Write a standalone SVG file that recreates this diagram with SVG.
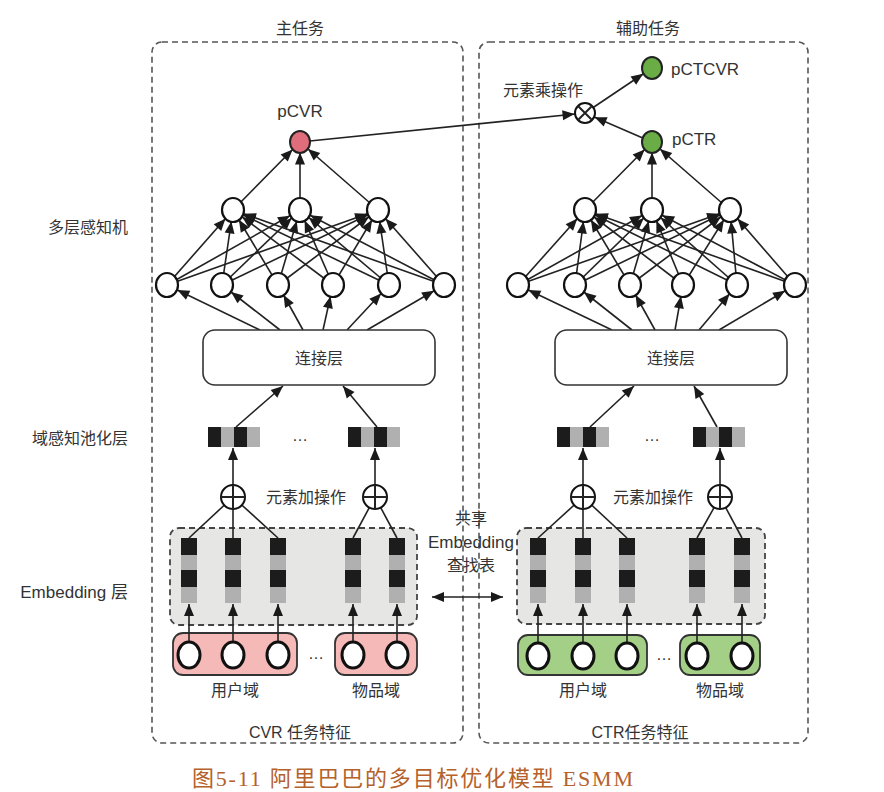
<svg xmlns="http://www.w3.org/2000/svg" xmlns:xlink="http://www.w3.org/1999/xlink" width="884" height="792" viewBox="0 0 884 792">
<style>
.t{font-family:"Liberation Sans","Noto Sans CJK SC",sans-serif;fill:#333;font-size:16px}
.c{text-anchor:middle}
.e{text-anchor:end}
.lt{font-size:17px}
.panel{fill:none;stroke:#555;stroke-width:1.6;stroke-dasharray:6 4}
.emb{fill:#e6e6e4;stroke:#444;stroke-width:1.8;stroke-dasharray:6 4}
.ln{stroke:#222;stroke-width:1.6;fill:none}
.ah{marker-end:url(#mh)}
.ao{marker-end:url(#mo)}
.ae{marker-end:url(#me)}
.nd{fill:#fff;stroke:#111;stroke-width:2.2}
.in{fill:#fff;stroke:#111;stroke-width:3}
.op{fill:#fff;stroke:#111;stroke-width:2}
.k{fill:#1c1c1c}
.g{fill:#b0b0b0}
.box{fill:#fff;stroke:#333;stroke-width:1.6}
.pk{fill:#f5b9b8;stroke:#333;stroke-width:1.8}
.gr{fill:#a3cf86;stroke:#333;stroke-width:1.8}
.cap{font-family:"Liberation Serif","Noto Sans CJK SC",serif;fill:#b5612b;font-size:22px}
</style>
<defs>
<marker id="mh" viewBox="0 0 12 10" markerUnits="userSpaceOnUse" markerWidth="12" markerHeight="10" refX="23.5" refY="5" orient="auto" overflow="visible"><path d="M0,0 L12,5 L0,10 z" fill="#1a1a1a"/></marker>
<marker id="mo" viewBox="0 0 12 10" markerUnits="userSpaceOnUse" markerWidth="12" markerHeight="10" refX="22.5" refY="5" orient="auto" overflow="visible"><path d="M0,0 L12,5 L0,10 z" fill="#1a1a1a"/></marker>
<marker id="me" viewBox="0 0 12 10" markerUnits="userSpaceOnUse" markerWidth="12" markerHeight="10" refX="12" refY="5" orient="auto-start-reverse" overflow="visible"><path d="M0,0 L12,5 L0,10 z" fill="#1a1a1a"/></marker>
<g id="pb"><rect class="k" x="0" y="0" width="13" height="20"/><rect class="g" x="13" y="0" width="13" height="20"/><rect class="k" x="26" y="0" width="13" height="20"/><rect class="g" x="39" y="0" width="13" height="20"/></g>
<g id="col"><rect class="k" x="-8" y="538" width="16" height="17"/><rect class="g" x="-8" y="555" width="16" height="15"/><rect class="k" x="-8" y="570" width="16" height="17"/><rect class="g" x="-8" y="587" width="16" height="16"/></g>
</defs>
<rect width="884" height="792" fill="#fff"/>

<g id="panel-main"><rect class="panel" x="152" y="42" width="311" height="701" rx="10"/></g>
<g id="panel-aux"><rect class="panel" x="479" y="42" width="329" height="701" rx="10"/></g>
<g id="emb-left"><rect class="emb" x="170" y="528" width="247" height="97" rx="9"/></g>
<g id="emb-right"><rect class="emb" x="517" y="528" width="248" height="96" rx="9"/></g>
<g id="user-domain-left"><rect class="pk" x="173" y="633" width="124" height="42" rx="10"/></g>
<g id="item-domain-left"><rect class="pk" x="335" y="633" width="82" height="42" rx="10"/></g>
<g id="user-domain-right"><rect class="gr" x="518" y="635" width="129" height="40" rx="10"/></g>
<g id="item-domain-right"><rect class="gr" x="680" y="635" width="80" height="40" rx="10"/></g>

<g id="connectors">
<line class="ln ah" x1="167" y1="285" x2="233" y2="210"/><line class="ln ah" x1="167" y1="285" x2="300" y2="210"/><line class="ln ah" x1="167" y1="285" x2="378" y2="210"/>
<line class="ln ah" x1="222" y1="285" x2="233" y2="210"/><line class="ln ah" x1="222" y1="285" x2="300" y2="210"/><line class="ln ah" x1="222" y1="285" x2="378" y2="210"/>
<line class="ln ah" x1="278" y1="285" x2="233" y2="210"/><line class="ln ah" x1="278" y1="285" x2="300" y2="210"/><line class="ln ah" x1="278" y1="285" x2="378" y2="210"/>
<line class="ln ah" x1="333" y1="285" x2="233" y2="210"/><line class="ln ah" x1="333" y1="285" x2="300" y2="210"/><line class="ln ah" x1="333" y1="285" x2="378" y2="210"/>
<line class="ln ah" x1="389" y1="285" x2="233" y2="210"/><line class="ln ah" x1="389" y1="285" x2="300" y2="210"/><line class="ln ah" x1="389" y1="285" x2="378" y2="210"/>
<line class="ln ah" x1="444" y1="285" x2="233" y2="210"/><line class="ln ah" x1="444" y1="285" x2="300" y2="210"/><line class="ln ah" x1="444" y1="285" x2="378" y2="210"/>
<line class="ln ao" x1="233" y1="210" x2="300" y2="142"/><line class="ln ao" x1="300" y1="210" x2="300" y2="142"/><line class="ln ao" x1="378" y1="210" x2="300" y2="142"/>
<line class="ln ah" x1="260" y1="330" x2="167" y2="285"/><line class="ln ah" x1="280" y1="330" x2="222" y2="285"/><line class="ln ah" x1="303" y1="330" x2="278" y2="285"/>
<line class="ln ah" x1="323" y1="330" x2="333" y2="285"/><line class="ln ah" x1="347" y1="330" x2="389" y2="285"/><line class="ln ah" x1="367" y1="330" x2="444" y2="285"/>
<line class="ln ae" x1="236" y1="427" x2="283" y2="386"/><line class="ln ae" x1="377" y1="427" x2="343" y2="386"/>
<line class="ln ae" x1="233" y1="497" x2="233" y2="448"/><line class="ln ae" x1="375" y1="497" x2="375" y2="448"/>
<line class="ln" x1="233" y1="497" x2="189" y2="538"/><line class="ln" x1="233" y1="497" x2="233" y2="538"/><line class="ln" x1="233" y1="497" x2="278" y2="538"/>
<line class="ln" x1="375" y1="497" x2="353" y2="538"/><line class="ln" x1="375" y1="497" x2="397" y2="538"/>
<line class="ln ae" x1="189" y1="655" x2="189" y2="604"/><line class="ln ae" x1="233" y1="655" x2="233" y2="604"/><line class="ln ae" x1="278" y1="655" x2="278" y2="604"/>
<line class="ln ae" x1="353" y1="655" x2="353" y2="604"/><line class="ln ae" x1="397" y1="655" x2="397" y2="604"/>

<line class="ln ah" x1="518" y1="285" x2="585" y2="210"/><line class="ln ah" x1="518" y1="285" x2="652" y2="210"/><line class="ln ah" x1="518" y1="285" x2="730" y2="210"/>
<line class="ln ah" x1="575" y1="285" x2="585" y2="210"/><line class="ln ah" x1="575" y1="285" x2="652" y2="210"/><line class="ln ah" x1="575" y1="285" x2="730" y2="210"/>
<line class="ln ah" x1="630" y1="285" x2="585" y2="210"/><line class="ln ah" x1="630" y1="285" x2="652" y2="210"/><line class="ln ah" x1="630" y1="285" x2="730" y2="210"/>
<line class="ln ah" x1="683" y1="285" x2="585" y2="210"/><line class="ln ah" x1="683" y1="285" x2="652" y2="210"/><line class="ln ah" x1="683" y1="285" x2="730" y2="210"/>
<line class="ln ah" x1="737" y1="285" x2="585" y2="210"/><line class="ln ah" x1="737" y1="285" x2="652" y2="210"/><line class="ln ah" x1="737" y1="285" x2="730" y2="210"/>
<line class="ln ah" x1="795" y1="285" x2="585" y2="210"/><line class="ln ah" x1="795" y1="285" x2="652" y2="210"/><line class="ln ah" x1="795" y1="285" x2="730" y2="210"/>
<line class="ln ao" x1="585" y1="210" x2="652" y2="142"/><line class="ln ao" x1="652" y1="210" x2="652" y2="142"/><line class="ln ao" x1="730" y1="210" x2="652" y2="142"/>
<line class="ln ah" x1="612" y1="330" x2="518" y2="285"/><line class="ln ah" x1="632" y1="330" x2="575" y2="285"/><line class="ln ah" x1="655" y1="330" x2="630" y2="285"/>
<line class="ln ah" x1="675" y1="330" x2="683" y2="285"/><line class="ln ah" x1="699" y1="330" x2="737" y2="285"/><line class="ln ah" x1="719" y1="330" x2="795" y2="285"/>
<line class="ln ae" x1="590" y1="427" x2="634" y2="386"/><line class="ln ae" x1="717" y1="427" x2="694" y2="386"/>
<line class="ln ae" x1="583" y1="497" x2="583" y2="448"/><line class="ln ae" x1="720" y1="497" x2="720" y2="448"/>
<line class="ln" x1="583" y1="497" x2="538" y2="538"/><line class="ln" x1="583" y1="497" x2="583" y2="538"/><line class="ln" x1="583" y1="497" x2="627" y2="538"/>
<line class="ln" x1="720" y1="497" x2="697" y2="538"/><line class="ln" x1="720" y1="497" x2="742" y2="538"/>
<line class="ln ae" x1="538" y1="656" x2="538" y2="604"/><line class="ln ae" x1="583" y1="656" x2="583" y2="604"/><line class="ln ae" x1="627" y1="656" x2="627" y2="604"/>
<line class="ln ae" x1="697" y1="656" x2="697" y2="604"/><line class="ln ae" x1="742" y1="656" x2="742" y2="604"/>

<line class="ln ao" x1="300" y1="142" x2="585" y2="113"/>
<line class="ln ao" x1="652" y1="142" x2="585" y2="113"/>
<line class="ln ao" x1="585" y1="113" x2="652" y2="68"/>
<line class="ln" style="marker-start:url(#me);marker-end:url(#me)" x1="432" y1="597" x2="503" y2="597"/>
</g>

<g id="pCVR"><ellipse cx="300" cy="142" rx="10" ry="11" fill="#e06d7b" stroke="#222" stroke-width="2"/><text class="t lt c" x="300" y="117">pCVR</text></g>
<g id="L-h2-1"><ellipse class="nd" cx="233" cy="210" rx="11" ry="12"/></g>
<g id="L-h2-2"><ellipse class="nd" cx="300" cy="210" rx="11" ry="12"/></g>
<g id="L-h2-3"><ellipse class="nd" cx="378" cy="210" rx="11" ry="12"/></g>
<g id="L-h1-1"><ellipse class="nd" cx="167" cy="285" rx="11" ry="12"/></g>
<g id="L-h1-2"><ellipse class="nd" cx="222" cy="285" rx="11" ry="12"/></g>
<g id="L-h1-3"><ellipse class="nd" cx="278" cy="285" rx="11" ry="12"/></g>
<g id="L-h1-4"><ellipse class="nd" cx="333" cy="285" rx="11" ry="12"/></g>
<g id="L-h1-5"><ellipse class="nd" cx="389" cy="285" rx="11" ry="12"/></g>
<g id="L-h1-6"><ellipse class="nd" cx="444" cy="285" rx="11" ry="12"/></g>
<g id="L-concat"><rect class="box" x="203" y="330" width="232" height="55" rx="12"/><text class="t c" x="319" y="364">连接层</text></g>
<g id="L-pool-1"><use xlink:href="#pb" x="208" y="427"/></g>
<g id="L-pool-2"><use xlink:href="#pb" x="348" y="427"/></g>
<g id="L-plus-1"><circle class="op" cx="233" cy="497" r="12"/><path class="ln" style="stroke-width:2" d="M221,497 H245 M233,485 V509"/></g>
<g id="L-plus-2"><circle class="op" cx="375" cy="497" r="12"/><path class="ln" style="stroke-width:2" d="M363,497 H387 M375,485 V509"/></g>
<g id="L-cols"><use xlink:href="#col" x="189"/><use xlink:href="#col" x="233"/><use xlink:href="#col" x="278"/><use xlink:href="#col" x="353"/><use xlink:href="#col" x="397"/></g>
<g id="L-in-1"><ellipse class="in" cx="189" cy="655" rx="11" ry="13"/></g>
<g id="L-in-2"><ellipse class="in" cx="233" cy="655" rx="11" ry="13"/></g>
<g id="L-in-3"><ellipse class="in" cx="278" cy="655" rx="11" ry="13"/></g>
<g id="L-in-4"><ellipse class="in" cx="353" cy="655" rx="11" ry="13"/></g>
<g id="L-in-5"><ellipse class="in" cx="397" cy="655" rx="11" ry="13"/></g>

<g id="pCTCVR"><ellipse cx="652" cy="68" rx="10" ry="11" fill="#6aad46" stroke="#222" stroke-width="2"/><text class="t lt" x="671" y="75">pCTCVR</text></g>
<g id="mult"><circle class="op" cx="585" cy="113" r="10"/><path class="ln" style="stroke-width:2" d="M578,106 L592,120 M592,106 L578,120"/></g>
<g id="pCTR"><ellipse cx="652" cy="142" rx="10" ry="11" fill="#6aad46" stroke="#222" stroke-width="2"/><text class="t lt" x="672" y="145">pCTR</text></g>
<g id="R-h2-1"><ellipse class="nd" cx="585" cy="210" rx="11" ry="12"/></g>
<g id="R-h2-2"><ellipse class="nd" cx="652" cy="210" rx="11" ry="12"/></g>
<g id="R-h2-3"><ellipse class="nd" cx="730" cy="210" rx="11" ry="12"/></g>
<g id="R-h1-1"><ellipse class="nd" cx="518" cy="285" rx="11" ry="12"/></g>
<g id="R-h1-2"><ellipse class="nd" cx="575" cy="285" rx="11" ry="12"/></g>
<g id="R-h1-3"><ellipse class="nd" cx="630" cy="285" rx="11" ry="12"/></g>
<g id="R-h1-4"><ellipse class="nd" cx="683" cy="285" rx="11" ry="12"/></g>
<g id="R-h1-5"><ellipse class="nd" cx="737" cy="285" rx="11" ry="12"/></g>
<g id="R-h1-6"><ellipse class="nd" cx="795" cy="285" rx="11" ry="12"/></g>
<g id="R-concat"><rect class="box" x="555" y="330" width="232" height="55" rx="12"/><text class="t c" x="671" y="364">连接层</text></g>
<g id="R-pool-1"><use xlink:href="#pb" x="557" y="427"/></g>
<g id="R-pool-2"><use xlink:href="#pb" x="693" y="427"/></g>
<g id="R-plus-1"><circle class="op" cx="583" cy="497" r="12"/><path class="ln" style="stroke-width:2" d="M571,497 H595 M583,485 V509"/></g>
<g id="R-plus-2"><circle class="op" cx="720" cy="497" r="12"/><path class="ln" style="stroke-width:2" d="M708,497 H732 M720,485 V509"/></g>
<g id="R-cols"><use xlink:href="#col" x="538"/><use xlink:href="#col" x="583"/><use xlink:href="#col" x="627"/><use xlink:href="#col" x="697"/><use xlink:href="#col" x="742"/></g>
<g id="R-in-1"><ellipse class="in" cx="538" cy="656" rx="11" ry="13"/></g>
<g id="R-in-2"><ellipse class="in" cx="583" cy="656" rx="11" ry="13"/></g>
<g id="R-in-3"><ellipse class="in" cx="627" cy="656" rx="11" ry="13"/></g>
<g id="R-in-4"><ellipse class="in" cx="697" cy="656" rx="11" ry="13"/></g>
<g id="R-in-5"><ellipse class="in" cx="742" cy="656" rx="11" ry="13"/></g>

<g id="labels">
<text class="t c" x="300" y="34">主任务</text>
<text class="t c" x="648" y="34">辅助任务</text>
<text class="t" x="503" y="96">元素乘操作</text>
<text class="t e" x="128" y="233">多层感知机</text>
<text class="t e" x="128" y="444">域感知池化层</text>
<text class="t e lt" x="128" y="598">Embedding 层</text>
<text class="t c" x="300" y="441">…</text>
<text class="t c" x="652" y="441">…</text>
<text class="t c" x="306" y="503">元素加操作</text>
<text class="t c" x="653" y="503">元素加操作</text>
<text class="t c" x="471" y="524">共享</text>
<text class="t c lt" x="471" y="548">Embedding</text>
<text class="t c" x="471" y="571">查找表</text>
<text class="t c" x="316" y="659">…</text>
<text class="t c" x="664" y="660">…</text>
<text class="t c" x="235" y="696">用户域</text>
<text class="t c" x="376" y="696">物品域</text>
<text class="t c" x="583" y="696">用户域</text>
<text class="t c" x="720" y="696">物品域</text>
<text class="t c" x="300" y="738">CVR 任务特征</text>
<text class="t c" x="640" y="738">CTR任务特征</text>
<text class="cap" x="192" y="786" textLength="441" lengthAdjust="spacing">图5-11 阿里巴巴的多目标优化模型 ESMM</text>
</g>
</svg>
